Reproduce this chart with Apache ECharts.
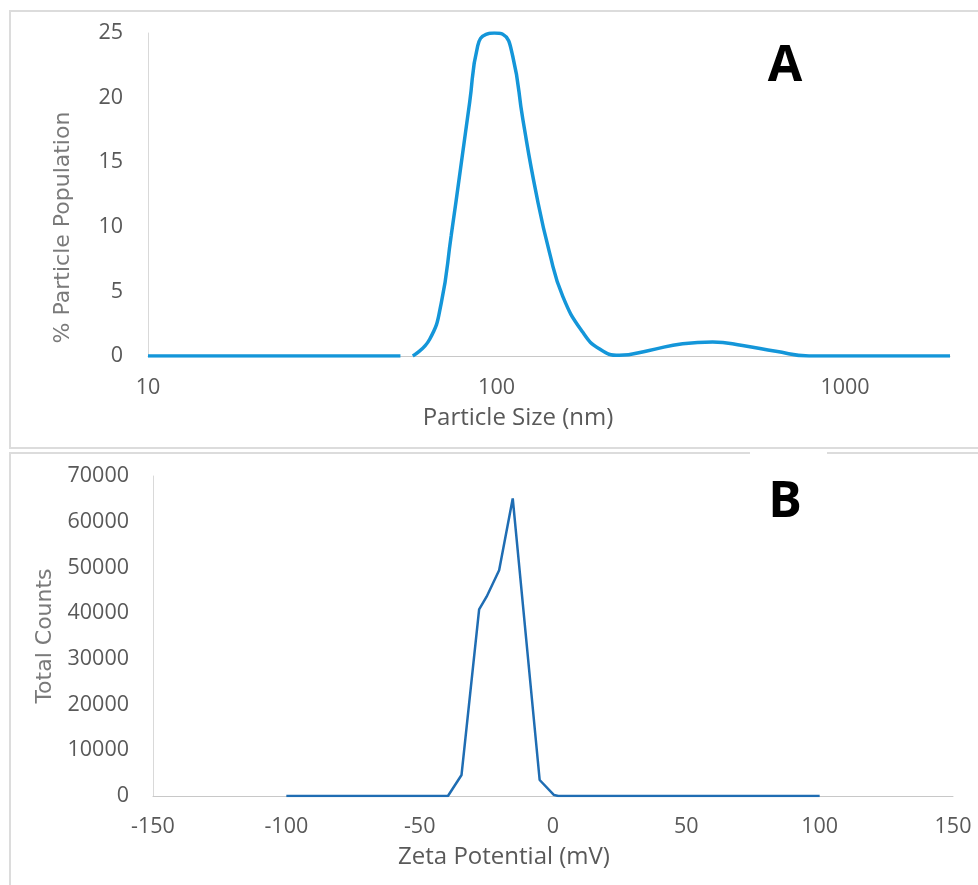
<!DOCTYPE html>
<html>
<head>
<meta charset="utf-8">
<script src="https://cdn.jsdelivr.net/npm/echarts@6/dist/echarts.min.js"></script>
<style>
    html, body { margin: 0; padding: 0; background: #fff; }
    #chart { width: 978px; height: 885px; }
</style>
</head>
<body>
<div id="chart"></div>
<script>
// Panel A: particle size distribution (nm, % population); '-' leaves the small clipped gap
const sizeNm = [10, 30, 53, 55, 57.5, 64.3, 69.4, 74.1, 79.2, 83.7, 88.3, 93.3, 98.5, 104.2, 111.3, 119, 129.9, 141.9, 155, 176.6, 197, 225, 274, 342, 417, 508, 633, 788, 1000, 2000];
const sizePct = [0, 0, 0, '-', 0, 1.3, 4.1, 9.3, 14.9, 19.6, 24.0, 24.9, 25, 24.9, 23.2, 18.3, 12.6, 8.0, 4.6, 1.85, 0.56, 0.05, 0.43, 0.95, 1.08, 0.82, 0.36, 0, 0, 0];
const sizeTicks = [10, 100, 1000];

// Panel B: zeta potential distribution (mV, total counts)
const zetaMv = [-100, -39.4, -34.3, -27.7, -24.9, -20.2, -15.1, -5.0, 0.4, 2, 100];
const zetaCounts = [0, 0, 4600, 40800, 43600, 49400, 65100, 3500, 200, 0, 0];

const chart = echarts.init(document.getElementById('chart'));

const grey = '#595959';
const plain = v => String(v);

const axisText = { color: grey, fontFamily: 'Open Sans', fontSize: 21.5 };
const xNameText = { color: grey, fontFamily: 'Open Sans', fontSize: 24 };
const yNameText = { color: '#7a7a7a', fontFamily: 'DejaVu Sans', fontSize: 22 };

chart.setOption({
    animation: false,
    backgroundColor: '#fff',
    grid: [
        { left: 148, top: 33, width: 802, height: 323 },
        { left: 153, top: 476, width: 800, height: 320 }
    ],
    xAxis: [{
        type: 'log',
        gridIndex: 0,
        min: 10,
        max: 2000,
        name: 'Particle Size (nm)',
        nameLocation: 'middle',
        nameGap: 50,
        // title sits a little left of the plot centre
        nameTextStyle: Object.assign({ padding: [0, 62, 0, 0] }, xNameText),
        axisLine: { lineStyle: { color: '#c8c8c8', width: 1 } },
        axisTick: { show: false },
        splitLine: { show: false },
        axisLabel: Object.assign({ margin: 21, customValues: sizeTicks, formatter: plain }, axisText)
    }, {
        type: 'value',
        gridIndex: 1,
        min: -150,
        max: 150,
        interval: 50,
        name: 'Zeta Potential (mV)',
        nameLocation: 'middle',
        nameGap: 49,
        nameTextStyle: Object.assign({ padding: [0, 98, 0, 0] }, xNameText),
        axisLine: { onZero: false, lineStyle: { color: '#c8c8c8', width: 1 } },
        axisTick: { show: false },
        splitLine: { show: false },
        axisLabel: Object.assign({ margin: 20 }, axisText)
    }],
    yAxis: [{
        type: 'value',
        gridIndex: 0,
        min: 0,
        max: 25,
        interval: 5,
        name: '% Particle Population',
        nameLocation: 'middle',
        nameGap: 74,
        nameTextStyle: Object.assign({ padding: [0, 66, 0, 0] }, yNameText),
        axisLine: { show: true, lineStyle: { color: '#d9d9d9', width: 1 } },
        axisTick: { show: false },
        splitLine: { show: false },
        axisLabel: Object.assign({ margin: 25 }, axisText)
    }, {
        type: 'value',
        gridIndex: 1,
        min: 0,
        max: 70000,
        interval: 10000,
        name: 'Total Counts',
        nameLocation: 'middle',
        nameGap: 95,
        nameTextStyle: yNameText,
        axisLine: { show: true, onZero: false, lineStyle: { color: '#d9d9d9', width: 1 } },
        axisTick: { show: false },
        splitLine: { show: false },
        axisLabel: Object.assign({ margin: 24, formatter: plain }, axisText)
    }],
    graphic: [
        { type: 'rect', shape: { x: 10, y: 11, width: 980, height: 437 }, style: { fill: null, stroke: '#dcdcdc', lineWidth: 2 }, z: -1 },
        { type: 'rect', shape: { x: 10, y: 453, width: 980, height: 445 }, style: { fill: null, stroke: '#dcdcdc', lineWidth: 2 }, z: -1 },
        { type: 'rect', shape: { x: 750, y: 451, width: 77, height: 4 }, style: { fill: '#fff' }, z: 0 },
        { type: 'text', x: 785, y: 67, style: { text: 'A', font: 'bold 50px "Open Sans"', fill: '#000', align: 'center', verticalAlign: 'middle' } },
        { type: 'text', x: 785, y: 503, style: { text: 'B', font: 'bold 50px "Open Sans"', fill: '#000', align: 'center', verticalAlign: 'middle' } }
    ],
    series: [{
        type: 'line',
        xAxisIndex: 0,
        yAxisIndex: 0,
        data: sizeNm.map((x, i) => [x, sizePct[i]]),
        smooth: 0.5,
        showSymbol: false,
        connectNulls: false,
        lineStyle: { color: '#1496d9', width: 3.5 }
    }, {
        type: 'line',
        xAxisIndex: 1,
        yAxisIndex: 1,
        data: zetaMv.map((x, i) => [x, zetaCounts[i]]),
        showSymbol: false,
        lineStyle: { color: '#1f6db3', width: 2.5 }
    }]
});

window.addEventListener('resize', () => chart.resize());
</script>
</body>
</html>
